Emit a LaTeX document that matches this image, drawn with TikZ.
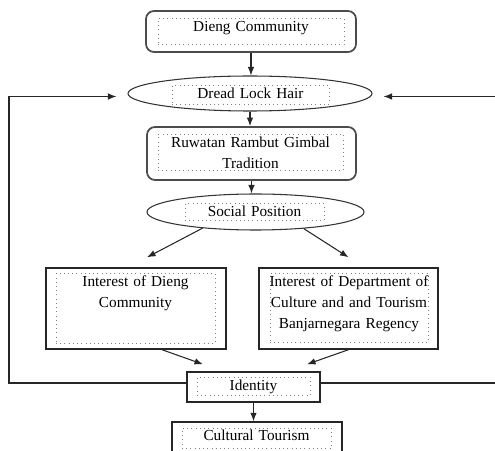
\documentclass[tikz,border=0pt]{standalone}
\usepackage{fontspec}
\setmainfont{Liberation Serif}
\usetikzlibrary{arrows.meta,positioning,calc,shapes.geometric}

\begin{document}
\begin{tikzpicture}[x=0.2mm, y=-0.2mm,
  rbox/.style={draw=black!70, line width=1pt, rounded corners=1.6mm},
  oval/.style={draw=black!80, ellipse, line width=0.6pt, inner sep=0pt},
  sbox/.style={draw=black!85, line width=0.8pt, inner sep=0pt},
  frame/.style={draw=gray, dotted, line width=0.4pt, inner sep=0pt,
    anchor=north, align=center, text height=2.6mm,
    font=\fontsize{8.7}{12}\selectfont},
  arrow/.style={-{Latex[length=1.7mm,width=1.3mm]}, line width=0.6pt, black!85},
  link/.style={line width=0.6pt, black!85}
]
  \useasboundingbox (0,0) rectangle (495,451);
  \clip (0,0) rectangle (495,451);

  % Outer shapes
  \node[rbox, minimum width=4.2cm, minimum height=0.82cm] (comm) at (251,31.5) {};
  \node[oval, minimum width=4.88cm, minimum height=0.7cm] (hair) at (250,93.5) {};
  \node[rbox, minimum width=4.18cm, minimum height=1.06cm] (ruwatan) at (251.5,153.5) {};
  \node[oval, minimum width=4.34cm, minimum height=0.72cm] (social) at (255.5,212) {};
  \node[sbox, minimum width=3.6cm, minimum height=1.62cm] (intdieng) at (136,308.5) {};
  \node[sbox, minimum width=3.58cm, minimum height=1.62cm] (intdept) at (348.5,308.5) {};
  \node[sbox, minimum width=2.66cm, minimum height=0.6cm] (identity) at (253.5,387) {};
  \node[sbox, minimum width=3.4cm, minimum height=0.8cm] (tourism) at (257,442) {};

  % Text frames
  \node[frame, text width=3.72cm, text depth=2.6mm] (comm-t) at (251,18) {Dieng Community};
  \node[frame, text width=3.14cm, text depth=1.2mm] (hair-t) at (250.5,85) {Dread Lock Hair};
  \node[frame, text width=3.7cm, text depth=4.6mm] (ruwatan-t) at (250.5,134)
    {Ruwatan Rambut Gimbal\\Tradition};
  \node[frame, text width=2.78cm, text depth=0.8mm] (social-t) at (254.5,203) {Social Position};
  \node[frame, text width=3.18cm, text depth=11.4mm] (intdieng-t) at (135.5,273)
    {Interest of Dieng\\Community};
  \node[frame, text width=3.36cm, inner xsep=-1mm, text depth=11.2mm] (intdept-t) at (349,273)
    {Interest of Department of\\Culture and and Tourism\\Banjarnegara Regency};
  \node[frame, text width=2.26cm, text depth=1mm] (identity-t) at (253.5,377) {Identity};
  \node[frame, text width=2.98cm, text height=2.4mm, text depth=1.6mm] (tourism-t)
    at (256.5,428) {Cultural Tourism};

  % Main flow
  \draw[arrow] (comm.south) -- (comm.south |- hair.north);
  \draw[arrow] (hair.south) -- (hair.south |- ruwatan.north);
  \draw[arrow] (ruwatan.south) -- (ruwatan.south |- social.north);
  \draw[arrow] (social.197) -- ([xshift=2.2mm,yshift=2mm]intdieng.north);
  \draw[arrow] (social.341) -- ([yshift=2mm]intdept.north);
  \draw[arrow] ([xshift=5.2mm]intdieng.south) -- ([xshift=-10.1mm,yshift=1.4mm]identity.north);
  \draw[arrow] (intdept.south) -- ([xshift=10.7mm,yshift=1.4mm]identity.north);
  \draw[arrow] (identity.south) -- (identity.south |- tourism.north);

  % Feedback lines
  \coordinate (loopL) at (9,96.5);
  \coordinate (loopR) at (495,96.5);
  \draw[arrow] ([yshift=0.8mm]identity.west) -| (loopL) -- ([xshift=-2.2mm]loopL -| hair.west);
  \draw[arrow] (loopR) -- ([xshift=2.2mm]loopR -| hair.east);
  \draw[link] ([yshift=0.8mm]identity.east) -- ([yshift=0.8mm]identity.east -| loopR);
\end{tikzpicture}
\end{document}
